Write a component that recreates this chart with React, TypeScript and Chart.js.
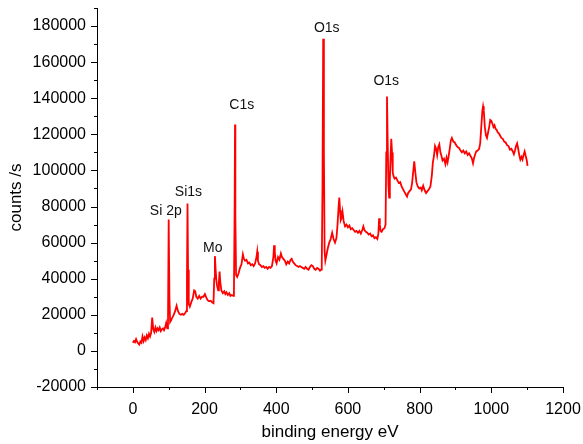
import React, { useEffect, useRef } from "react";
import { Chart, registerables } from "chart.js";

Chart.register(...registerables);

// binding energy (eV)
const energy = [
  0, 3, 6, 9, 12, 15, 18, 21, 24, 27, 30, 33, 36, 39, 42, 45, 48, 51, 54, 57,
  60, 63, 66, 69, 72, 75, 78, 81, 84, 87, 90, 93, 96, 98, 100, 102, 104, 107, 110, 114,
  118, 122, 126, 130, 134, 138, 142, 146, 149, 151, 152.5, 154, 156, 159, 163, 167, 171, 174, 177, 181,
  185, 189, 193, 197, 201, 205, 209, 213, 217, 221, 225, 227, 229, 231, 233, 235, 238, 240, 242, 244,
  247, 251, 255, 258, 261, 265, 269, 272, 276, 280, 282, 284, 285, 286, 288, 291, 295, 299, 303, 307,
  310, 313, 317, 321, 325, 329, 333, 337, 341, 345, 347, 349, 352, 356, 360, 364, 368, 372, 376, 380,
  384, 388, 392, 394, 396, 398, 401, 405, 409, 413, 416, 420, 424, 428, 432, 436, 440, 443, 446, 450,
  454, 458, 462, 466, 470, 474, 478, 482, 486, 490, 494, 498, 502, 506, 510, 514, 518, 522, 525, 527,
  529, 531, 533, 535, 537, 540, 544, 548, 552, 556, 560, 564, 568, 571, 574, 576, 578, 580, 583, 585,
  588, 592, 596, 600, 604, 608, 612, 616, 620, 624, 628, 632, 636, 640, 643, 646, 650, 654, 658, 662,
  666, 670, 674, 678, 682, 685, 687, 689, 691, 694, 698, 702, 705, 707, 709, 711, 713, 715, 717, 719,
  721, 723, 725, 727, 730, 734, 738, 742, 746, 750, 754, 758, 762, 765, 768, 772, 776, 779, 782, 785,
  788, 791, 795, 799, 803, 806, 810, 814, 818, 822, 826, 830, 834, 837, 840, 843, 846, 849, 852, 855,
  858, 861, 864, 868, 872, 875, 878, 881, 884, 887, 890, 894, 898, 902, 906, 910, 914, 918, 922, 926,
  930, 934, 938, 942, 946, 949, 952, 955, 958, 962, 966, 969, 972, 975, 977, 979, 982, 985, 988, 991,
  994, 997, 1000, 1003, 1006, 1009, 1012, 1015, 1018, 1021, 1024, 1028, 1032, 1036, 1040, 1044, 1048, 1052, 1056, 1060,
  1063, 1066, 1069, 1072, 1075, 1078, 1081, 1084, 1087, 1090, 1093, 1096, 1099, 1101,
];

// counts per second
const counts = [
  4500, 5500, 4800, 6500, 5000, 4200, 3500, 5200, 4500, 8000, 5500, 7500, 6000, 8500, 7000, 9500, 8000, 10000, 18500, 12000,
  10500, 13000, 11000, 12500, 11500, 13000, 11000, 12000, 12500, 11500, 13000, 15500, 12500, 13500, 72800, 30000, 16000, 17000, 18500, 20000,
  22000, 25000, 22000, 20500, 20000, 20500, 20000, 21000, 22000, 40000, 81700, 45000, 26000, 24500, 27000, 29000, 33500, 33000, 30000, 29000,
  30500, 29000, 30000, 30000, 31500, 29500, 28000, 27500, 27800, 27000, 26500, 40000, 52500, 45000, 39000, 36000, 33500, 38000, 44000, 38000,
  33500, 32000, 33000, 31500, 32500, 31000, 32000, 30500, 31000, 30500, 33000, 80000, 125500, 75000, 42000, 41000, 43000, 46000, 48000, 53500,
  51000, 50000, 50500, 48500, 49000, 47500, 48000, 47000, 48500, 52000, 55000, 50000, 48000, 47500, 46500, 47000, 46000, 46500, 45500, 46500,
  46000, 47000, 52000, 58500, 55000, 50000, 48500, 52000, 50500, 54000, 52000, 51000, 50000, 48000, 49500, 48500, 50500, 51000, 49500, 48500,
  47500, 47000, 46500, 47000, 46500, 46000, 45500, 46500, 45500, 45000, 46500, 47500, 47000, 45500, 45000, 46000, 45500, 44500, 45000, 47000,
  90000, 173000, 110000, 55000, 50000, 53000, 57000, 60000, 62000, 65500, 62000, 60000, 62500, 70000, 80000, 85000, 78000, 72500, 74000, 77000,
  72000, 69000, 70000, 68500, 69500, 67500, 68000, 67000, 66000, 66500, 65500, 66500, 65000, 67000, 69000, 67000, 66000, 65500, 64500, 65000,
  63500, 64000, 62500, 63000, 62000, 65000, 73500, 70000, 66500, 66000, 67500, 68000, 70000, 110000, 141000, 115000, 92000, 85000, 95000, 108000,
  117500, 110000, 99000, 97000, 95500, 96000, 94500, 93000, 93500, 91000, 89500, 88000, 86500, 85500, 87500, 88500, 89500, 93000, 99000, 105000,
  99000, 93500, 91000, 90000, 90500, 89000, 91500, 89000, 87500, 88500, 89500, 91000, 97000, 104500, 108000, 113500, 112000, 108500, 113000, 114500,
  110000, 108000, 105500, 106500, 103500, 107000, 104500, 108000, 112000, 116500, 118000, 116000, 115500, 114000, 113000, 112500, 111000, 110000, 111000, 109500,
  110500, 108500, 109500, 108000, 106500, 104000, 107000, 109000, 110500, 111000, 112000, 115000, 124000, 133000, 135500, 133000, 124000, 119500, 118000, 121000,
  124000, 128000, 127500, 126000, 124000, 125000, 123000, 122500, 121000, 120500, 119500, 118000, 117500, 116000, 115500, 114000, 113500, 111500, 112000, 110500,
  109000, 111000, 113500, 115000, 112000, 108500, 106000, 107500, 106000, 108500, 110500, 108000, 105500, 102500,
];

// axis tick labels (major ticks)
const xTickValues = [0, 200, 400, 600, 800, 1000, 1200];
const yTickValues = [-20000, 0, 20000, 40000, 60000, 80000, 100000, 120000, 140000, 160000, 180000];

// peak annotations (text centre, in data units)
const peakLabels = ["Si 2p", "Si1s", "Mo", "C1s", "O1s", "O1s"];
const peakLabelEnergy = [92, 155, 223, 304, 541, 707];
const peakLabelCounts = [77500, 88000, 57000, 136000, 179000, 149300];

const xTitle = "binding energy eV";
const yTitle = "counts /s";

const FONT = "'Liberation Sans', Arial, sans-serif";

const decorPlugin = {
  id: "decor",
  afterDraw(chart: any) {
    const { ctx, chartArea, scales } = chart;
    const x = scales.x;
    const y = scales.y;
    ctx.save();
    ctx.strokeStyle = "#000";
    ctx.lineWidth = 1;
    ctx.beginPath();
    // y ticks (major + minor halfway)
    for (let v = y.min; v <= y.max + 1; v += 10000) {
      const py = Math.round(y.getPixelForValue(v)) + 0.5;
      const len = v % 20000 === 0 ? 6 : 3;
      ctx.moveTo(chartArea.left - len, py);
      ctx.lineTo(chartArea.left, py);
    }
    // x ticks
    for (let v = x.min; v <= x.max + 0.1; v += 100) {
      const px = Math.round(x.getPixelForValue(v)) + 0.5;
      const len = v % 200 === 0 ? 6 : 3;
      ctx.moveTo(px, chartArea.bottom);
      ctx.lineTo(px, chartArea.bottom + len);
    }
    ctx.stroke();

    // peak labels
    ctx.fillStyle = "#111";
    ctx.font = `14px ${FONT}`;
    ctx.textAlign = "center";
    ctx.textBaseline = "middle";
    for (let i = 0; i < peakLabels.length; i++) {
      ctx.fillText(
        peakLabels[i],
        x.getPixelForValue(peakLabelEnergy[i]),
        y.getPixelForValue(peakLabelCounts[i])
      );
    }
    ctx.restore();
  },
};

export default function App() {
  const ref = useRef<HTMLCanvasElement | null>(null);

  useEffect(() => {
    if (!ref.current) return;
    const points = energy.map((e, i) => ({ x: e, y: counts[i] }));
    const chart = new Chart(ref.current, {
      type: "line",
      data: {
        datasets: [
          {
            data: points,
            borderColor: "#ff0000",
            borderWidth: 1.8,
            pointRadius: 0,
            tension: 0,
            fill: false,
          },
        ],
      },
      options: {
        animation: false,
        responsive: true,
        maintainAspectRatio: false,
        layout: { padding: { top: 8, right: 20, left: 0, bottom: 0 } },
        plugins: {
          legend: { display: false },
          tooltip: { enabled: false },
        },
        scales: {
          x: {
            type: "linear",
            min: -100,
            max: 1200,
            grid: { display: false, drawTicks: false },
            border: { display: true, color: "#000", width: 1 },
            afterBuildTicks: (s: any) => {
              s.ticks = xTickValues.map((v) => ({ value: v }));
            },
            afterFit: (s: any) => {
              s.height = 57;
              s.paddingLeft = 0;
              s.paddingRight = 0;
            },
            ticks: {
              autoSkip: false,
              maxRotation: 0,
              padding: 13,
              color: "#000",
              font: { family: FONT, size: 16 },
              callback: (v: any) => String(v),
            },
            title: {
              display: true,
              text: xTitle,
              color: "#000",
              font: { family: FONT, size: 17 },
              padding: { top: 0, bottom: 1 },
            },
          },
          y: {
            type: "linear",
            min: -20000,
            max: 190000,
            grid: { display: false, drawTicks: false },
            border: { display: true, color: "#000", width: 1 },
            afterBuildTicks: (s: any) => {
              s.ticks = yTickValues.map((v) => ({ value: v }));
            },
            afterFit: (s: any) => {
              s.width = 97;
              s.paddingTop = 0;
              s.paddingBottom = 0;
            },
            ticks: {
              autoSkip: false,
              padding: 11,
              color: "#000",
              font: { family: FONT, size: 16 },
              callback: (v: any) => String(v),
            },
            title: {
              display: true,
              text: yTitle,
              color: "#000",
              font: { family: FONT, size: 17 },
              padding: { top: 6, bottom: 0 },
            },
          },
        },
      },
      plugins: [decorPlugin],
    });
    return () => chart.destroy();
  }, []);

  return (
    <div
      style={{
        position: "fixed",
        left: 0,
        top: 0,
        width: 583,
        height: 444,
        background: "#fff",
      }}
    >
      <canvas ref={ref} />
    </div>
  );
}
